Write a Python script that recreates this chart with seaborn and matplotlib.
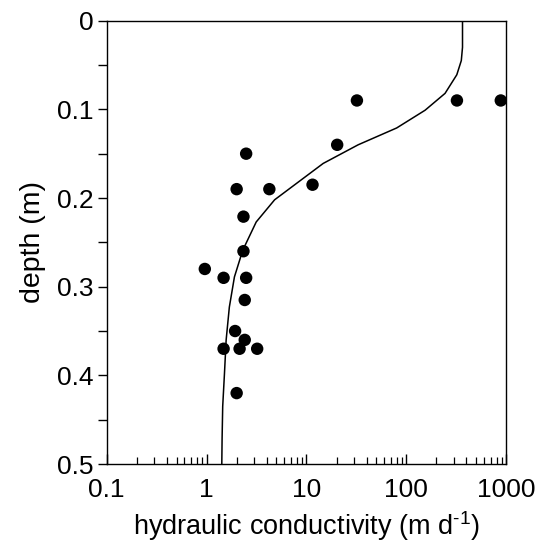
import numpy as np
import pandas as pd
import matplotlib
matplotlib.use("Agg")
import matplotlib.pyplot as plt
import matplotlib.ticker as mticker
import seaborn as sns

# measured hydraulic conductivity (m/d) and depth (m)
obs_k = [32, 321, 882, 20.3, 2.49, 2.0, 4.25, 11.5, 2.34, 2.34, 0.96, 1.48,
         2.49, 2.41, 1.93, 2.41, 1.48, 2.14, 3.21, 2.0]
obs_depth = [0.09, 0.09, 0.09, 0.14, 0.15, 0.19, 0.19, 0.185, 0.221, 0.26, 0.28,
             0.29, 0.29, 0.315, 0.35, 0.36, 0.37, 0.37, 0.37, 0.42]

# fitted profile
fit_k = [365, 365, 355, 320, 244, 154, 80, 32.9, 14.7, 4.8, 3.14, 2.30, 1.90,
         1.69, 1.57, 1.51, 1.45, 1.43, 1.42]
fit_depth = [0.0, 0.03, 0.045, 0.061, 0.082, 0.101, 0.121, 0.140, 0.161, 0.202,
             0.227, 0.259, 0.289, 0.323, 0.36, 0.398, 0.435, 0.471, 0.5]

x_ticks = [0.1, 1, 10, 100, 1000]
x_ticklabels = ["0.1", "1", "10", "100", "1000"]
y_ticks = [0, 0.1, 0.2, 0.3, 0.4, 0.5]
y_ticklabels = ["0", "0.1", "0.2", "0.3", "0.4", "0.5"]

sns.set_style("ticks")
plt.rcParams["font.family"] = ["Liberation Sans", "DejaVu Sans"]
plt.rcParams["mathtext.fontset"] = "custom"
plt.rcParams["mathtext.rm"] = "Liberation Sans"
plt.rcParams["text.color"] = "black"
plt.rcParams["axes.labelcolor"] = "black"

obs = pd.DataFrame({"k": obs_k, "depth": obs_depth})
fit = pd.DataFrame({"k": fit_k, "depth": fit_depth})

fig = plt.figure(figsize=(5.37, 5.44), dpi=100)
ax = fig.add_axes([0.1987, 0.147, 0.744, 0.815])

sns.lineplot(data=fit, x="k", y="depth", sort=False, estimator=None,
             color="black", linewidth=1.1, ax=ax)
sns.scatterplot(data=obs, x="k", y="depth", color="black", s=80,
                edgecolor="none", ax=ax, zorder=3, clip_on=False)

ax.set_xscale("log")
ax.set_xlim(0.1, 1000)
ax.set_ylim(0.5, 0)

ax.set_xticks(x_ticks)
ax.set_xticklabels(x_ticklabels)
ax.xaxis.set_minor_locator(mticker.LogLocator(base=10, subs=np.arange(2, 10)))
ax.xaxis.set_minor_formatter(mticker.NullFormatter())
ax.set_yticks(y_ticks)
ax.set_yticklabels(y_ticklabels)
ax.yaxis.set_minor_locator(mticker.MultipleLocator(0.05))

ax.tick_params(axis="x", which="major", direction="in", length=7, width=1,
               labelsize=19, pad=10, colors="black")
ax.tick_params(axis="x", which="minor", direction="in", length=5, width=0.9,
               colors="black")
ax.tick_params(axis="y", which="both", direction="out", length=6.5, width=1,
               labelsize=19, pad=3, colors="black")

for side in ["top", "right", "left", "bottom"]:
    ax.spines[side].set_visible(True)
    ax.spines[side].set_linewidth(1.0)
    ax.spines[side].set_color("black")

ax.set_xlabel("hydraulic conductivity (m d$^{\\text{-1}}$)", fontsize=19.5,
              labelpad=5)
ax.set_ylabel("depth (m)", fontsize=20.5, labelpad=8)

plt.savefig("out.png", dpi=100)
